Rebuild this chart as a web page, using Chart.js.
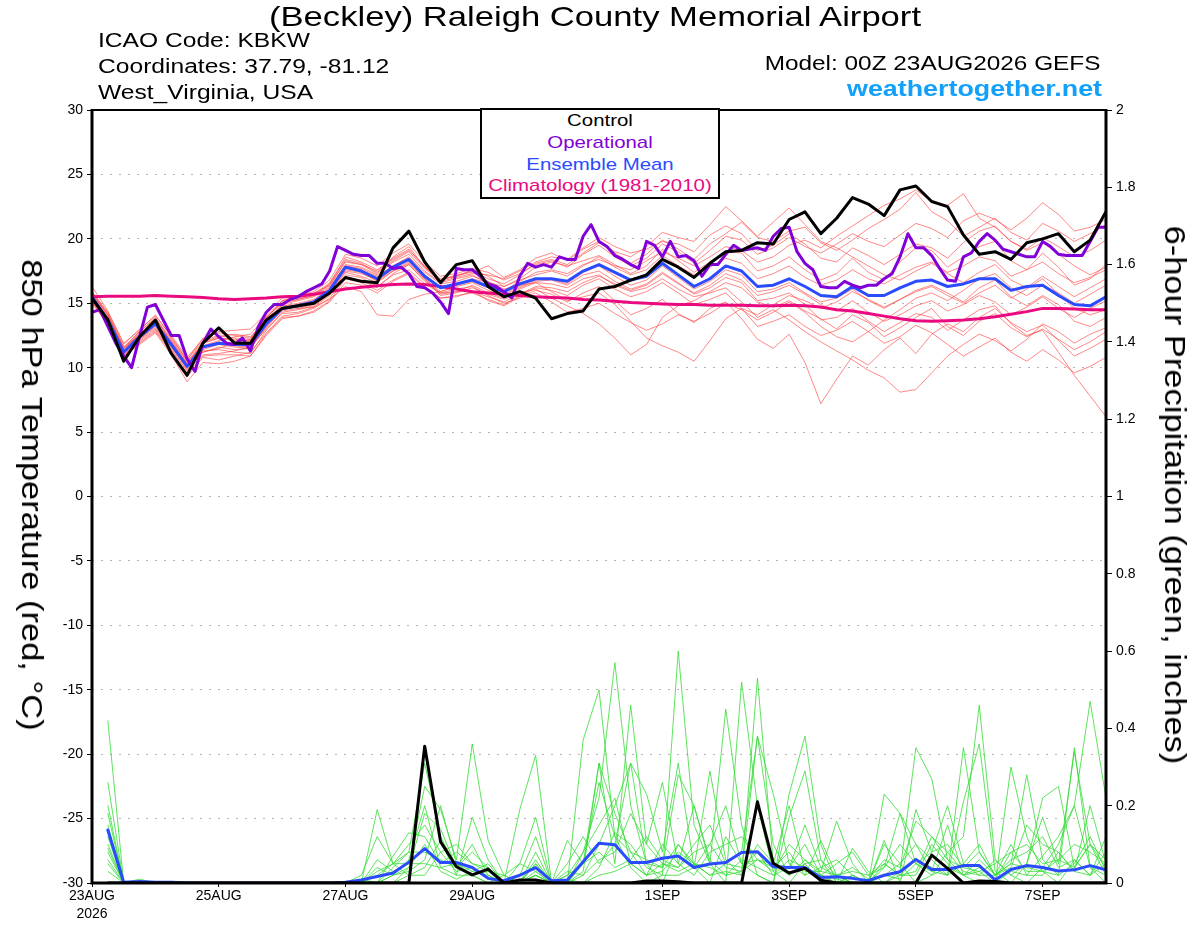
<!DOCTYPE html>
<html>
<head>
<meta charset="utf-8">
<title>Beckley GEFS meteogram</title>
<script src="https://cdn.jsdelivr.net/npm/chart.js@4/dist/chart.umd.min.js"></script>
<style>
  body { margin: 0; background: #fff; }
  #wrap { position: relative; width: 1200px; height: 927px; overflow: hidden; }
  #myChart { position: absolute; left: 0; top: 0; }
  .t { position: absolute; white-space: nowrap; font-family: "Liberation Sans", Arial, Helvetica, sans-serif; line-height: 1; color: #000; }
  .hl { left: 98px; font-size: 20px; transform-origin: 0 0; transform: scaleX(1.23); }
  .hr { right: 100px; transform-origin: 100% 0; }
  .lg { left: 600px; font-size: 17px; transform: translateX(-50%) scaleX(1.2); }
  .ax { font-size: 30px; transform: translate(-50%, -50%) rotate(90deg) scaleX(1.15); }
  #legendBox { position: absolute; left: 480px; top: 108px; width: 240px; height: 91px; box-sizing: border-box; border: 2px solid #000; background: #fff; }
</style>
</head>
<body>
<div id="wrap">
  <canvas id="myChart" width="1200" height="927"></canvas>
  <div class="t" style="left:595px; top:3px; font-size:28px; transform:translateX(-50%) scaleX(1.236);">(Beckley) Raleigh County Memorial Airport</div>
  <div class="t hl" style="top:30px;">ICAO Code: KBKW</div>
  <div class="t hl" style="top:56px;">Coordinates: 37.79, -81.12</div>
  <div class="t hl" style="top:82px;">West_Virginia, USA</div>
  <div class="t hr" style="top:52px; font-size:21px; transform:scaleX(1.16);">Model: 00Z 23AUG2026 GEFS</div>
  <div class="t hr" style="top:78px; right:98px; font-size:22px; font-weight:bold; color:#12a0f8; transform:scaleX(1.22);">weathertogether.net</div>
  <div id="legendBox"></div>
  <div class="t lg" style="top:112px;">Control</div>
  <div class="t lg" style="top:134px; color:#8200d8;">Operational</div>
  <div class="t lg" style="top:156px; color:#2a4bff;">Ensemble Mean</div>
  <div class="t lg" style="top:177px; color:#ea0a80;">Climatology (1981-2010)</div>
  <div class="t ax" style="left:32px; top:495px;">850 hPa Temperature (red, °C)</div>
  <div class="t ax" style="left:1175px; top:495px;">6-hour Precipitation (green, inches)</div>
</div>
<script>
// time axis: hours after 00Z 23AUG2026
const tickHours = [0, 48, 96, 144, 216, 264, 312, 360];
const tickLabels = [['23AUG', '2026'], '25AUG', '27AUG', '29AUG', '1SEP', '3SEP', '5SEP', '7SEP'];
const tempTickLabels = ['-30', '-25', '-20', '-15', '-10', '-5', '0', '5', '10', '15', '20', '25', '30'];
const precipTickLabels = ['0', '0.2', '0.4', '0.6', '0.8', '1', '1.2', '1.4', '1.6', '1.8', '2'];

// 850 hPa temperature, 6-hourly from hour 0
const tempControl = [
  15.4,13.7,10.5,12.4,13.7,11.1,9.4,11.9,13.1,11.9,
  11.9,13.7,14.6,14.8,15.0,15.8,17.0,16.7,16.6,19.3,
  20.6,18.2,16.6,18.0,18.3,16.3,15.5,15.9,15.4,13.8,
  14.2,14.4,16.1,16.3,16.8,17.2,18.4,17.8,17.0,18.1,
  19.0,19.1,19.7,19.6,21.5,22.1,20.4,21.6,23.2,22.7,
  21.8,23.8,24.1,22.9,22.5,20.3,18.8,19.0,18.4,19.7,
  20.0,20.4,19.0,19.9,22.1];
const tempMean = [
  15.5,13.7,11.2,12.4,13.4,11.8,10.1,11.6,11.9,11.8,
  11.8,13.4,14.6,14.8,15.1,16.0,17.8,17.5,16.9,17.8,
  18.4,17.1,16.2,16.5,16.8,16.3,15.9,16.5,16.9,16.9,
  16.7,17.5,18.0,17.4,16.8,17.1,18.1,17.2,16.3,16.9,
  17.9,17.5,16.3,16.4,16.9,16.3,15.6,15.5,16.3,15.6,
  15.6,16.2,16.7,16.8,16.3,16.5,16.9,16.9,16.0,16.3,
  16.4,15.6,14.9,14.8,15.5];
const tempClimo = [
  15.5,15.55,15.55,15.55,15.6,15.55,15.5,15.45,15.35,15.3,
  15.35,15.4,15.5,15.55,15.7,15.9,16.1,16.25,16.35,16.45,
  16.5,16.45,16.3,16.1,15.9,15.8,15.7,15.6,15.5,15.45,
  15.4,15.3,15.25,15.15,15.05,15.0,14.95,14.9,14.9,14.85,
  14.85,14.85,14.8,14.8,14.85,14.8,14.7,14.5,14.4,14.2,
  14.0,13.8,13.65,13.6,13.65,13.7,13.8,13.95,14.15,14.35,
  14.6,14.6,14.55,14.5,14.5];
// operational run, 3-hourly from hour 0
const tempOper = [
  14.3,14.5,13.2,11.9,10.9,10.0,12.4,14.7,14.9,13.7,
  12.5,12.5,10.7,9.7,11.9,13.0,12.4,11.9,11.8,12.3,
  11.3,13.2,14.3,14.9,14.9,15.3,15.5,15.9,16.2,16.5,
  17.5,19.4,19.1,18.8,18.7,18.7,18.1,18.1,17.7,17.8,
  17.3,16.3,16.2,15.8,15.1,14.2,17.7,17.6,17.6,17.1,
  16.5,16.3,15.9,15.4,17.1,18.1,17.8,18.0,17.8,18.6,
  18.4,18.4,20.2,21.1,19.8,19.4,18.7,18.4,18.0,17.7,
  19.8,19.5,18.6,19.8,18.6,18.7,18.3,17.1,18.0,18.0,
  18.8,19.5,19.1,19.2,19.3,19.1,20.2,20.8,20.9,19.0,
  18.1,17.6,16.3,16.2,16.2,16.7,16.4,16.2,16.4,16.4,
  16.9,17.3,18.6,20.4,19.3,19.3,18.7,17.7,16.8,16.7,
  18.6,18.9,19.8,20.4,19.9,19.2,19.0,18.8,18.6,18.6,
  19.8,19.4,18.8,18.7,18.7,18.7,19.8,20.9,20.9];

// ensemble members, 6-hourly from hour 0
const tmpM01 = [15.8,14.0,11.5,12.8,13.9,12.0,10.3,11.2,11.5,11.9,12.2,13.8,15.2,15.6,15.8,16.4,18.2,18.0,17.3,18.6,19.4,17.8,16.8,17.2,17.4,17.9,17.0,17.6,18.5,18.9,18.3,19.2,19.8,18.9,18.1,18.8,19.9,19.2,18.4,19.6,20.4,21.3,20.1,19.8,20.6,20.9,19.7,19.1,19.9,20.8,21.5,22.3,23.6,22.1,21.4,20.2,20.9,21.6,20.5,19.9,21.2,20.6,19.8,20.4,21.1];
const tmpM02 = [15.2,13.5,11.0,12.1,13.0,11.4,9.7,11.0,11.1,11.3,11.6,13.0,14.2,14.3,14.7,15.6,17.2,17.0,16.3,17.2,17.6,16.5,15.8,15.9,16.0,15.2,14.8,15.5,16.0,15.7,15.1,15.8,16.3,15.2,14.1,14.6,15.3,14.2,13.5,14.6,15.1,13.8,12.2,11.5,12.6,10.4,7.2,9.1,10.9,10.2,11.4,12.3,11.1,12.6,13.4,12.8,13.9,14.6,13.5,12.8,13.3,12.1,10.9,11.5,12.2];
const tmpM03 = [16.3,14.4,11.9,12.9,14.1,12.4,10.6,12.3,12.7,12.5,12.3,13.9,15.0,15.3,15.6,16.5,18.6,18.2,17.6,18.4,19.1,17.9,16.9,17.1,17.6,17.1,16.3,16.9,17.8,18.2,17.9,18.3,18.7,18.0,17.3,17.9,19.2,18.3,17.4,18.2,19.0,18.9,17.5,17.9,18.6,17.6,16.8,17.3,18.5,17.4,16.8,18.2,19.3,19.1,17.8,18.6,19.4,19.8,18.3,17.6,18.9,17.8,16.4,16.9,18.0];
const tmpM04 = [15.0,13.4,10.8,11.9,12.8,11.2,9.3,10.8,10.6,10.9,11.2,12.7,14.0,14.2,14.6,15.4,17.0,16.8,16.2,17.3,18.0,16.8,15.6,15.8,16.2,15.7,15.3,15.8,16.1,15.4,14.8,14.2,13.4,12.3,11.0,11.8,13.9,14.8,15.2,15.9,16.6,16.2,15.1,14.7,15.2,14.4,13.8,13.0,14.1,13.5,12.4,13.1,13.9,14.6,13.2,12.5,13.6,14.2,13.1,12.4,13.0,12.2,11.4,12.0,12.8];
const tmpM05 = [15.6,13.9,11.4,12.7,13.6,11.9,10.2,11.9,12.3,12.1,12.0,13.5,14.8,15.0,15.3,16.2,17.9,17.7,17.1,17.9,18.6,17.4,16.5,16.7,17.1,16.7,16.1,16.4,16.6,15.9,15.2,15.5,15.8,14.9,13.6,12.3,11.7,11.2,10.5,12.1,13.8,14.6,14.1,14.9,15.6,15.2,14.6,15.1,15.9,15.3,14.7,15.3,16.0,16.4,15.8,15.1,16.2,16.8,15.5,14.8,15.6,14.9,13.6,13.2,13.9];
const tmpM06 = [15.9,14.2,11.6,12.5,13.7,12.2,10.5,11.7,12.1,12.4,12.6,14.0,15.2,15.4,15.7,16.6,18.4,18.1,17.4,18.3,19.0,17.7,16.7,17.0,17.3,17.2,16.9,17.5,18.2,18.6,18.4,19.3,20.1,19.4,18.9,19.2,19.8,19.6,19.0,20.3,21.0,20.4,19.1,19.5,20.4,19.6,18.5,18.2,19.3,18.7,18.0,18.8,19.6,19.3,18.5,19.7,20.6,21.0,19.8,19.2,20.1,19.4,18.6,19.1,19.9];
const tmpM07 = [15.3,13.6,11.1,12.3,13.2,11.6,10.0,11.4,11.8,11.6,11.5,13.2,14.4,14.6,14.9,15.8,17.5,17.3,16.8,17.6,18.2,16.9,15.9,16.3,16.6,16.0,15.6,16.2,16.7,16.8,16.4,17.2,17.5,16.7,16.1,16.5,17.4,16.6,15.7,16.2,17.0,16.6,15.2,15.4,15.8,14.9,13.7,13.9,14.6,13.6,12.8,13.5,14.2,13.9,12.9,13.7,14.5,14.8,13.4,12.5,12.9,11.2,9.4,7.8,6.2];
const tmpM08 = [15.7,14.1,11.3,12.6,13.5,12.1,10.4,12.0,12.4,12.6,12.4,13.6,14.9,15.2,15.5,16.3,18.0,17.8,17.2,18.2,18.8,17.5,16.6,16.9,17.2,16.5,16.0,16.7,17.4,17.6,17.3,18.0,18.4,17.9,17.6,18.3,19.0,18.5,17.9,18.6,19.4,19.1,18.2,18.6,19.5,19.9,19.3,20.2,21.0,21.8,22.6,23.1,23.8,22.9,22.6,23.5,21.6,20.9,19.8,19.1,19.7,18.8,17.9,17.2,17.8];
const tmpM09 = [15.4,13.6,11.2,12.2,13.3,11.7,9.9,11.3,11.4,11.2,11.1,12.9,14.3,14.5,14.8,15.7,17.4,17.1,16.6,17.5,18.1,16.9,15.7,15.9,16.4,15.8,15.4,16.1,16.6,16.5,16.2,16.9,17.2,16.4,15.9,16.2,16.9,16.1,15.5,15.8,16.2,15.1,13.9,14.5,13.7,12.8,12.0,11.3,10.6,9.8,9.2,8.1,8.3,9.6,10.9,11.8,12.6,12.1,11.3,12.2,13.4,12.8,11.9,12.6,13.1];
const tmpM10 = [15.4,13.8,11.3,12.5,13.6,12.0,10.3,11.9,12.3,12.2,12.1,13.7,14.9,14.6,14.7,15.3,16.3,15.9,14.1,14.0,15.3,15.7,15.9,16.4,16.9,16.6,16.3,16.8,17.2,17.5,17.1,17.9,18.6,17.8,17.2,17.6,18.7,17.9,17.2,17.8,18.5,18.1,16.9,17.3,17.9,17.0,16.4,16.8,17.6,16.9,16.5,17.2,17.8,18.2,17.4,17.9,18.6,18.3,17.1,17.6,18.2,17.3,16.6,17.0,17.6];
const tmpM11 = [15.1,13.3,10.9,12.0,12.9,11.3,9.5,10.9,11.0,11.0,10.9,12.6,13.9,14.0,14.4,15.2,16.9,16.6,16.0,16.8,17.4,16.3,15.4,15.6,15.8,15.3,14.9,15.6,16.2,16.0,15.6,16.4,16.9,16.1,15.5,15.9,16.6,15.8,14.9,15.3,15.8,14.6,13.2,13.6,14.1,13.2,12.5,12.9,13.6,12.8,11.9,12.4,13.3,12.7,11.8,10.9,11.6,12.3,11.2,10.5,11.4,10.6,9.6,10.1,10.8];
const tmpM12 = [15.9,14.3,11.8,13.0,14.0,12.5,10.8,12.2,12.8,12.9,13.0,14.2,15.4,15.6,15.9,16.8,18.8,18.5,17.9,18.9,19.6,18.2,17.1,17.3,17.7,17.4,16.8,17.3,18.0,18.3,17.8,18.8,19.5,18.6,17.9,18.5,19.6,19.0,18.1,19.1,20.2,19.9,18.8,19.3,20.1,19.4,18.9,19.6,20.4,19.8,19.4,20.3,21.2,20.8,20.1,21.4,22.0,21.5,20.7,21.6,22.8,21.9,20.6,20.9,21.5];
const tmpM13 = [15.6,13.8,11.4,12.6,13.5,11.9,10.1,11.6,12.0,11.7,11.6,13.3,14.7,14.9,15.2,16.1,17.9,17.6,17.0,17.9,18.5,17.2,16.2,16.4,16.7,16.2,15.7,16.3,16.8,16.9,16.5,17.4,17.9,17.1,16.4,16.8,17.9,17.0,16.1,16.7,17.6,17.2,15.9,16.1,16.6,15.8,15.1,15.4,16.1,15.2,14.6,15.3,15.9,16.3,15.6,15.0,15.8,16.4,15.4,16.1,16.9,15.7,14.6,14.1,14.5];
const tmpM14 = [15.2,13.4,10.9,11.8,12.7,11.0,8.9,10.4,10.3,10.5,10.9,12.5,13.8,14.0,14.3,15.1,16.6,16.4,15.8,16.7,17.3,16.2,15.4,15.5,15.9,15.5,15.1,15.7,16.3,16.2,15.9,16.6,17.1,16.5,16.0,16.4,17.3,16.5,15.8,16.4,17.3,16.8,15.6,15.9,16.4,15.7,14.9,14.4,15.2,14.3,13.6,14.1,14.8,15.2,14.4,14.9,15.6,15.1,14.1,14.7,15.5,14.6,13.9,14.6,15.2];
const tmpM15 = [15.8,14.1,11.6,12.8,13.8,12.3,10.6,12.1,12.5,12.3,12.2,13.9,15.1,15.3,15.6,16.4,18.3,18.0,17.5,18.5,19.2,17.8,16.8,17.1,17.5,16.9,16.5,17.2,18.1,18.4,18.0,18.9,19.7,19.0,18.6,19.4,20.5,20.1,19.8,21.1,22.5,21.4,20.2,21.3,22.4,21.1,19.8,19.3,18.6,17.9,17.2,16.8,17.5,18.1,17.3,16.6,17.4,18.0,16.8,16.2,17.1,16.3,15.5,16.2,16.9];
const tmpM16 = [15.5,13.7,11.0,12.2,13.1,11.5,9.8,11.2,11.6,11.4,11.5,13.1,14.5,14.7,15.0,15.9,17.6,17.4,16.7,17.5,18.0,16.7,15.8,16.1,16.3,15.6,15.0,15.4,15.8,15.1,14.3,14.6,15.0,14.2,13.5,12.9,13.4,14.1,13.6,14.2,15.0,14.5,13.7,14.3,15.1,14.3,13.2,12.4,12.0,12.8,13.7,14.5,15.4,15.8,15.2,16.0,16.9,17.3,16.2,15.6,16.4,15.8,15.0,15.7,16.4];
const tempMembers = [tmpM01, tmpM02, tmpM03, tmpM04, tmpM05, tmpM06, tmpM07, tmpM08,
                     tmpM09, tmpM10, tmpM11, tmpM12, tmpM13, tmpM14, tmpM15, tmpM16];

// 6-hour precipitation (inches), 6-hourly from hour 6
const pcpControl = [
  0,0,0,0,0,0,0,0, 0,0,0,0,0,0,0,0,
  0,0,0,0,.354,.107,.042,.021, .036,0,.008,.008,0,0,0,0,
  0,0,.005,.005,.003,0,0,0, 0,.21,.051,.026,.038,.007,0,0,
  0,0,0,0,.072,.038,0,.005, .004,0,0,0,0,0,0,0];
const pcpMean = [
  .137,.002,.004,.002,.002,0,0,0, 0,0,0,0,0,0,0,.002,
  .008,.017,.026,.054,.089,.053,.053,.040, .012,.006,.020,.040,.006,.008,.055,.103,
  .099,.053,.053,.064,.070,.040,.049,.053, .079,.081,.042,.040,.040,.014,.016,.012,
  .006,.020,.029,.061,.035,.035,.045,.045, .008,.035,.045,.040,.031,.034,.045,.034];
const pcpM01 = [.42,0,0,0,0,0,0,0, 0,0,0,0,0,0,0,0, 0,.02,.05,.08,.31,.12,.04,.02, 0,0,0,.03,0,0,.08,.22, .57,.2,.05,0,.1,.04,0,.12, .05,.02,0,.17,.29,.06,0,.02, 0,.1,.05,0,.02,.08,.12,.46, .06,.02,0,.04,.1,.2,.47,.22];
const pcpM02 = [.26,0,.01,0,0,0,0,0, 0,0,0,0,0,0,0,0, 0,.19,.05,.05,.25,.19,.06,.36, .11,.02,0,.05,0,0,.37,.5, .12,.04,0,.02,.6,.15,.05,0, .52,.2,.03,0,.05,0,.02,0, 0,0,.03,.35,.27,.06,.02,0, 0,.3,.12,.03,0,.06,.02,.12];
const pcpM03 = [.2,0,0,0,0,0,0,0, 0,0,0,0,0,0,0,0, .02,.12,.05,.1,.15,.08,.1,.05, .03,0,.19,.33,0,.11,.05,.31, .05,.46,.1,.26,.05,.2,.06,.02, .03,.38,.23,.05,.02,.11,.02,0, 0,.23,.18,.05,.03,.02,.35,.08, .02,.05,.28,.06,.02,.35,.04,0];
const pcpM04 = [.15,0,0,0,0,0,0,0, 0,0,0,0,0,0,0,0, 0,.04,.02,.06,.2,.04,.02,.17, .06,0,.05,.17,0,0,.02,.1, .2,.31,.23,.08,.31,.04,.29,.06, .02,.53,.05,.2,.03,.03,.16,.05, 0,.11,0,.19,.08,.2,.05,.02, .06,.02,.05,.22,.25,.04,.1,.06];
const pcpM05 = [.12,0,0,0,0,0,0,0, 0,0,0,0,0,0,0,0, 0,0,.02,.03,.06,.2,.05,.03, .02,0,0,.05,0,.05,.12,.05, .1,.31,.05,.04,.28,.2,.05,.45, .15,.02,0,.23,.38,.1,0,.09, .03,0,.02,.06,.04,.02,.21,.36, .03,0,.05,.17,.05,.34,.1,.02];
const pcpM06 = [.1,0,0,0,0,0,0,0, 0,0,0,0,0,0,0,0, .01,0,.07,.13,.12,.05,.08,.05, .04,0,.02,.12,0,0,.03,.31, .18,.08,.02,.05,.04,.1,.15,.05, .08,.38,.1,.02,.05,.06,.02,.03, .02,.04,.18,.1,.03,.15,.02,.06, .02,.1,.02,.07,.12,.2,.04,.02];
const pcpM07 = [.08,0,0,0,0,0,0,0, 0,0,0,0,0,0,0,0, 0,.03,.05,.02,.04,.11,.02,.02, 0,.02,.05,.03,0,.02,.08,.15, .22,.05,.02,.1,.05,.02,.08,.1, .12,.06,.05,.04,.1,.02,.05,.08, .02,.05,.02,.02,.1,.05,.02,.04, .01,.08,.1,.05,.06,.1,.08,.05];
const pcpM08 = [.05,0,0,0,0,0,0,0, 0,0,0,0,0,0,0,0, 0,0,.04,.08,.08,.06,.04,.1, .02,0,0,.06,0,.03,.02,.06, .08,.18,.1,.05,.03,.05,.02,.05, .04,.08,.02,.06,.04,.02,0,.02, 0,.02,.05,.1,.06,.02,.05,.1, .02,.05,.04,.03,.02,.05,.12,.03];
const pcpM09 = [.03,0,0,0,0,0,0,0, 0,0,0,0,0,0,0,0, 0,0,0,.02,.02,.08,.03,.04, .01,0,0,.02,0,.01,0,.02, .03,.05,.02,.03,.08,.05,.02,.03, .02,.1,.05,.02,.06,.02,.01,0, 0,.02,.01,.05,.02,.04,.02,.03, 0,.03,.02,.02,.08,.03,.02,.05];
const pcpM10 = [.18,0,0,0,0,0,0,0, 0,0,0,0,0,0,0,0, 0,0,0,.04,.1,.03,.01,.03, .05,0,0,.02,0,0,0,.04, .13,.1,.04,.02,.02,.04,.1,.2, .05,.06,.03,.1,.06,.03,.02,0, 0,.05,.02,.03,.12,.08,.03,.02, .02,.04,.15,.1,.08,.03,.2,.05];
const pcpM11 = [.06,0,0,0,0,0,0,0, 0,0,0,0,0,0,0,0, 0,.06,.03,.05,.05,.04,.05,.02, .03,.02,0,.02,0,0,.05,.08, .04,.06,.12,.06,.04,.08,.1,.04, .03,.06,.04,.08,.02,.04,.06,.02, 0,.04,.1,.05,.08,.1,.04,.03, .05,.08,.03,.03,.06,.04,.1,.04];
const pcpM12 = [.09,0,0,0,0,0,0,0, 0,0,0,0,0,0,0,0, 0,0,.02,.04,.18,.14,.04,.08, .04,0,0,.08,0,.02,.05,.26, .12,.08,.06,.04,.1,.05,.04,.02, .06,.04,.02,.04,.15,.04,.02,.04, .01,.06,.04,.16,.12,.06,.04,.08, .02,.06,.08,.12,.04,.06,.02,.08];
const pcpMembers = [pcpM01, pcpM02, pcpM03, pcpM04, pcpM05, pcpM06,
                    pcpM07, pcpM08, pcpM09, pcpM10, pcpM11, pcpM12];

// attach forecast hours to a series
function series(values, stepHours, firstHour) {
  return values.map((v, k) => ({ x: firstHour + k * stepHours, y: v }));
}

const datasets = [];
tempMembers.forEach(m => datasets.push({
  data: series(m, 6, 0), yAxisID: 'y',
  borderColor: 'rgba(255,55,55,0.75)', borderWidth: 0.8, order: 10
}));
pcpMembers.forEach(m => datasets.push({
  data: series(m, 6, 6), yAxisID: 'y2',
  borderColor: '#35dc35', borderWidth: 0.8, order: 10
}));
datasets.push(
  { data: series(tempClimo, 6, 0), yAxisID: 'y', borderColor: '#ea0a80', borderWidth: 3, order: 5 },
  { data: series(tempMean, 6, 0), yAxisID: 'y', borderColor: '#2a4bff', borderWidth: 3, order: 4 },
  { data: series(pcpMean, 6, 6), yAxisID: 'y2', borderColor: '#2a4bff', borderWidth: 3, order: 4 },
  { data: series(tempOper, 3, 0), yAxisID: 'y', borderColor: '#8200d8', borderWidth: 3, order: 3 },
  { data: series(tempControl, 6, 0), yAxisID: 'y', borderColor: '#000', borderWidth: 3, order: 2 },
  { data: series(pcpControl, 6, 6), yAxisID: 'y2', borderColor: '#000', borderWidth: 3, order: 2 }
);

// black frame round the plot
const frame = {
  id: 'frame',
  afterDatasetsDraw(chart) {
    const { ctx, chartArea: a } = chart;
    ctx.save();
    ctx.strokeStyle = '#000';
    ctx.lineWidth = 2;
    ctx.beginPath();
    ctx.moveTo(a.left, a.top);
    ctx.lineTo(a.right, a.top);
    ctx.stroke();
    ctx.lineWidth = 3;
    ctx.beginPath();
    ctx.moveTo(a.left, a.top - 1);
    ctx.lineTo(a.left, a.bottom);
    ctx.lineTo(a.right, a.bottom);
    ctx.lineTo(a.right, a.top - 1);
    ctx.stroke();
    ctx.restore();
  }
};

const tickFont = { family: '"Liberation Sans", Arial, sans-serif', size: 14, lineHeight: 1.3 };

new Chart("myChart", {
  type: "line",
  data: { datasets: datasets },
  plugins: [frame],
  options: {
    responsive: false,
    animation: false,
    events: [],
    layout: { padding: { top: 110, left: 0, right: 0, bottom: 0 } },
    elements: {
      point: { radius: 0 },
      line: { tension: 0, fill: false, borderJoinStyle: 'round', borderCapStyle: 'round' }
    },
    plugins: { legend: { display: false }, tooltip: { enabled: false } },
    scales: {
      x: {
        type: 'linear', min: 0, max: 384,
        afterBuildTicks: s => { s.ticks = tickHours.map(v => ({ value: v })); },
        afterFit: s => { s.height = 44; },
        grid: { drawOnChartArea: false, tickLength: 4, tickColor: '#000' },
        border: { display: false },
        ticks: {
          autoSkip: false, maxRotation: 0, padding: 0, color: '#000', font: tickFont,
          callback: v => tickLabels[tickHours.indexOf(v)]
        }
      },
      y: {
        position: 'left', min: -30, max: 30,
        afterFit: s => { s.width = 92; },
        grid: { color: '#b4b4b4', lineWidth: 1, tickLength: 5, tickColor: '#000' },
        border: { display: false, dash: [2, 7] },
        ticks: { stepSize: 5, padding: 4, color: '#000', font: tickFont,
                 callback: (v, i) => tempTickLabels[i] }
      },
      y2: {
        position: 'right', min: 0, max: 2,
        afterFit: s => { s.width = 94; },
        grid: { drawOnChartArea: false, tickLength: 6, tickColor: '#000' },
        border: { display: false },
        ticks: { stepSize: 0.2, padding: 4, color: '#000', font: tickFont,
                 callback: (v, i) => precipTickLabels[i] }
      }
    }
  }
});
</script>
</body>
</html>
